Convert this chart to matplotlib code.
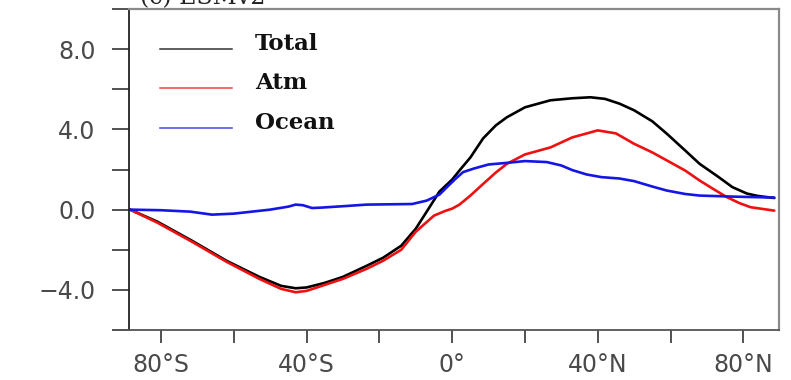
import matplotlib
matplotlib.use("Agg")
import matplotlib.pyplot as plt
from matplotlib.ticker import FixedLocator

# ---- data ----
lat_total = [-88.5, -81, -71.5, -62, -53, -47, -43, -40, -35, -30, -23.5, -19, -14, -10,
             -7, -3.5, 0, 2, 5, 8.5, 12, 15, 20, 27, 33, 38, 42, 46, 50, 55, 59, 64, 68,
             73, 77, 81, 84, 88.5]
total = [0.0, -0.6, -1.55, -2.55, -3.35, -3.8, -3.92, -3.88, -3.65, -3.35, -2.8, -2.4, -1.8,
         -0.95, -0.1, 0.9, 1.5, 1.95, 2.6, 3.55, 4.2, 4.6, 5.1, 5.45, 5.55, 5.6, 5.52, 5.28,
         4.95, 4.4, 3.78, 2.95, 2.28, 1.65, 1.12, 0.8, 0.68, 0.58]

lat_atm = [-88.5, -81, -71.5, -62, -53, -47, -43, -40, -35, -30, -23.5, -19, -14, -10, -5,
           -2, 0, 2, 5, 8.5, 12, 15, 20, 27, 33, 40, 45, 50, 55, 59, 64, 68, 72, 75.5, 79,
           82, 88.5]
atm = [0.0, -0.65, -1.6, -2.6, -3.45, -3.95, -4.12, -4.05, -3.75, -3.45, -2.95, -2.55, -2.0,
       -1.1, -0.3, -0.07, 0.05, 0.25, 0.7, 1.28, 1.85, 2.28, 2.75, 3.1, 3.6, 3.95, 3.8, 3.28,
       2.85, 2.45, 1.95, 1.45, 1.0, 0.62, 0.32, 0.12, -0.05]

lat_ocean = [-88.5, -80, -72, -66, -60, -55, -50, -45, -43, -41, -38.5, -36, -30, -23.5, -15,
             -11, -7, -3.5, -1, 1, 3, 6, 10, 15, 20, 26, 30, 33, 37, 41, 46, 50, 55, 59, 64,
             68, 77, 88.5]
ocean = [0.0, -0.03, -0.1, -0.25, -0.2, -0.1, 0.0, 0.15, 0.25, 0.22, 0.08, 0.1, 0.17, 0.25,
         0.27, 0.28, 0.45, 0.75, 1.2, 1.55, 1.87, 2.05, 2.25, 2.33, 2.42, 2.37, 2.2, 1.97,
         1.75, 1.62, 1.55, 1.42, 1.15, 0.95, 0.78, 0.7, 0.65, 0.6]

series_names = ["Total", "Atm", "Ocean"]
series_colors = ["#000000", "#ee1111", "#1515e6"]

xticks_major = [-80, -40, 0, 40, 80]
xtick_labels = ["80°S", "40°S", "0°", "40°N", "80°N"]
xticks_minor = [-60, -20, 20, 60]
yticks_major = [-4, 0, 4, 8]
ytick_labels = ["\u22124.0", "0.0", "4.0", "8.0"]
yticks_minor = [-6, -2, 2, 6, 10]
title = "(c) ESMv2"

# ---- figure ----
fig = plt.figure(figsize=(7.91, 3.80), dpi=100)
ax = fig.add_axes([129 / 791, 50 / 380, 650 / 791, 321 / 380])

for lat, vals, c in zip([lat_total, lat_atm, lat_ocean], [total, atm, ocean], series_colors):
    ax.plot(lat, vals, color=c, lw=1.9, solid_capstyle="round", solid_joinstyle="round")

ax.set_xlim(-88.8, 89.8)
ax.set_ylim(-6, 10)

ax.xaxis.set_major_locator(FixedLocator(xticks_major))
ax.xaxis.set_minor_locator(FixedLocator(xticks_minor))
ax.set_xticklabels(xtick_labels)
ax.yaxis.set_major_locator(FixedLocator(yticks_major))
ax.yaxis.set_minor_locator(FixedLocator(yticks_minor))
ax.set_yticklabels(ytick_labels)

tick_col = "#333333"
label_col = "#4a4a4a"
ax.tick_params(axis="y", which="both", direction="out", length=12, width=1.2,
               color=tick_col, pad=12, labelsize=17, labelcolor=label_col)
ax.tick_params(axis="x", which="both", direction="out", length=9.5, width=1.2,
               color=tick_col, pad=7, labelsize=17, labelcolor=label_col)
for lab in ax.get_xticklabels() + ax.get_yticklabels():
    lab.set_family("DejaVu Sans")

ax.spines["left"].set_color("#222222")
ax.spines["left"].set_linewidth(1.3)
ax.spines["bottom"].set_color("#555555")
ax.spines["bottom"].set_linewidth(1.3)
ax.spines["top"].set_color("#8a8a8a")
ax.spines["top"].set_linewidth(1.6)
ax.spines["right"].set_color("#8a8a8a")
ax.spines["right"].set_linewidth(1.6)

# custom legend
leg_y = [0.875, 0.754, 0.629]
for name, c, yy in zip(series_names, series_colors, leg_y):
    ax.plot([0.048, 0.158], [yy, yy], transform=ax.transAxes, color=c, lw=1.1, alpha=0.8)
    ax.text(0.194, yy - 0.004, name, transform=ax.transAxes, va="baseline", ha="left",
            fontsize=16.5, fontweight="bold", family="DejaVu Serif", color="#111111")

# title, cut off at the top edge as in the reference
fig.text(140 / 791, 1 - 4 / 380, title, ha="left", va="baseline", fontsize=17,
         family="DejaVu Serif", color="#222222")

fig.savefig("out.png", dpi=100)
